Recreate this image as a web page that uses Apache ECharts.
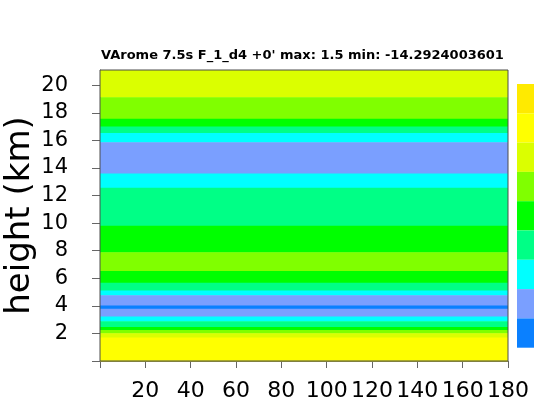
<!DOCTYPE html>
<html>
<head>
<meta charset="utf-8">
<script src="https://cdn.jsdelivr.net/npm/echarts@6/dist/echarts.min.js"></script>
<style>
  html, body { margin: 0; padding: 0; background: #fff; }
  #chart { width: 534px; height: 410px; }
</style>
</head>
<body>
<div id="chart"></div>
<script>
// Vertical profile: layer bottoms/tops (km) and the field value in each layer
const layerBottom = [19.12, 17.56, 17.01, 16.53, 15.87, 13.60, 12.56, 9.80, 7.88, 6.52, 5.67, 5.12, 4.76, 4.03, 3.79, 3.23, 2.89, 2.46, 2.24, 2.02, 1.70, 0.00];
const layerTop    = [21.10, 19.12, 17.56, 17.01, 16.53, 15.87, 13.60, 12.56, 9.80, 7.88, 6.52, 5.67, 5.12, 4.76, 4.03, 3.79, 3.23, 2.89, 2.46, 2.24, 2.02, 1.70];
const layerValue  = [-1.0, -3.0, -5.0, -7.0, -9.0, -11.0, -9.0, -7.0, -5.0, -3.0, -5.0, -7.0, -9.0, -11.0, -14.2924003601, -11.0, -9.0, -7.0, -5.0, -3.0, -1.0, 1.5];

// Horizontal extent of the section and axis ticks
const xStart = 0;
const xEnd = 180;
const heightTop = 21.1;
const xTicks = [0, 20, 40, 60, 80, 100, 120, 140, 160, 180];
const xLabels = [20, 40, 60, 80, 100, 120, 140, 160, 180];
const yTicks = [0, 2, 4, 6, 8, 10, 12, 14, 16, 18, 20];
const yLabels = [2, 4, 6, 8, 10, 12, 14, 16, 18, 20];

// Contour levels and their colours (low to high)
const levelEdges = [-12, -10, -8, -6, -4, -2, 0, 2];
const levelColors = ['#0a80ff', '#7a9fff', '#00ffff', '#00ff86', '#00ff00', '#80ff00', '#dbff00', '#ffff00', '#ffea00'];

const titleText = "VArome 7.5s F_1_d4 +0' max: 1.5 min: -14.2924003601";

const layers = layerBottom.map((b, i) => [b, layerTop[i], layerValue[i]]);

const pieces = levelColors.map((c, i) => {
  const p = { color: c };
  if (i > 0) p.gte = levelEdges[i - 1];
  if (i < levelEdges.length) p.lt = levelEdges[i];
  return p;
});

const chart = echarts.init(document.getElementById('chart'), null, { renderer: 'canvas' });

chart.setOption({
  animation: false,
  backgroundColor: '#ffffff',
  title: {
    text: titleText,
    left: 101,
    top: 49,
    padding: 0,
    textStyle: { fontFamily: 'DejaVu Sans', fontWeight: 'bold', fontSize: 13, color: '#000' }
  },
  grid: {
    left: 100, top: 70, width: 408, height: 291,
    show: true, z: 5,
    backgroundColor: 'transparent',
    borderColor: '#4d4d4d', borderWidth: 1,
    outerBoundsMode: 'none'
  },
  xAxis: {
    type: 'value',
    min: xStart, max: xEnd, interval: 20,
    offset: 14,
    splitLine: { show: false },
    axisLine: { show: true, lineStyle: { color: '#666', width: 1 } },
    axisTick: { show: true, length: 7, inside: false, customValues: xTicks, lineStyle: { color: '#666' } },
    axisLabel: {
      customValues: xLabels,
      margin: 5,
      fontFamily: 'DejaVu Sans', fontSize: 22, color: '#000'
    }
  },
  yAxis: {
    type: 'value',
    min: 0, max: heightTop, interval: 2,
    offset: 17,
    name: 'height (km)',
    nameLocation: 'middle',
    nameRotate: 90,
    nameGap: 46,
    nameMoveOverlap: false,
    nameTextStyle: { fontFamily: 'DejaVu Sans', fontSize: 34, color: '#000' },
    splitLine: { show: false },
    axisLine: { show: true, lineStyle: { color: '#666', width: 1 } },
    axisTick: { show: true, length: 8, inside: false, customValues: yTicks, lineStyle: { color: '#666' } },
    axisLabel: {
      customValues: yLabels,
      margin: 15,
      fontFamily: 'DejaVu Sans', fontSize: 21, color: '#000'
    }
  },
  visualMap: {
    type: 'piecewise',
    dimension: 2,
    seriesIndex: 0,
    pieces: pieces,
    orient: 'vertical',
    left: 517, top: 84,
    padding: 0,
    itemWidth: 24, itemHeight: 29.3, itemGap: 0,
    itemSymbol: 'rect',
    showLabel: false,
    hoverLink: false,
    selectedMode: false
  },
  series: [{
    type: 'custom',
    coordinateSystem: 'cartesian2d',
    encode: { y: [0, 1] },
    data: layers,
    renderItem: function (params, api) {
      const lo = api.coord([xStart, api.value(0)]);
      const hi = api.coord([xEnd, api.value(1)]);
      return {
        type: 'rect',
        shape: { x: lo[0], y: hi[1], width: hi[0] - lo[0], height: lo[1] - hi[1] + 0.5 },
        style: { fill: api.visual('color') }
      };
    }
  }]
});
</script>
</body>
</html>
